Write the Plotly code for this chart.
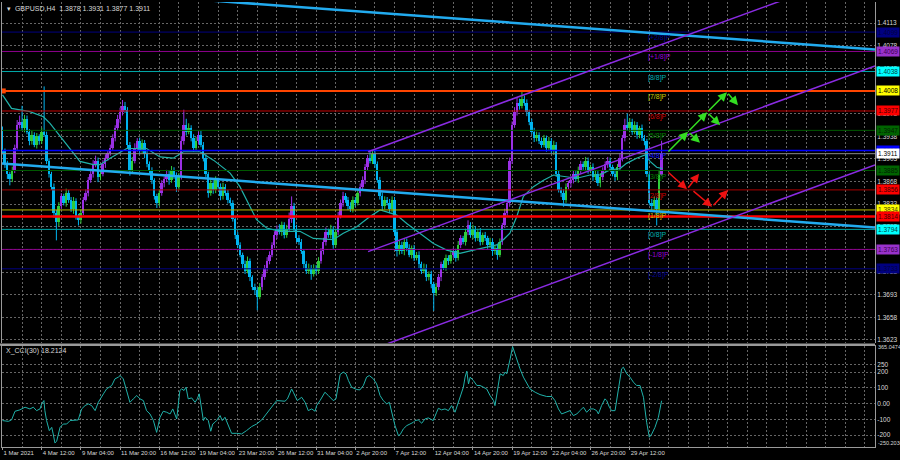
import plotly.graph_objects as go

# ---------------- DATA ----------------
first_open = 1.3945
closes = [
    1.3915, 1.3895, 1.3880, 1.3872, 1.3885, 1.3920, 1.3955, 1.3960, 1.3950, 1.3965,
    1.3945, 1.3930, 1.3940, 1.3925, 1.3938, 1.3930, 1.3945, 1.3940, 1.3900, 1.3880,
    1.3860, 1.3820, 1.3805, 1.3830, 1.3845, 1.3835, 1.3850, 1.3840, 1.3825, 1.3838,
    1.3815, 1.3808, 1.3820, 1.3840, 1.3850, 1.3870, 1.3880, 1.3895, 1.3900, 1.3875,
    1.3880, 1.3895, 1.3905, 1.3912, 1.3920, 1.3935, 1.3950, 1.3965, 1.3975, 1.3985,
    1.3978, 1.3925, 1.3885, 1.3900, 1.3920, 1.3930, 1.3915, 1.3928, 1.3910, 1.3895,
    1.3885, 1.3870, 1.3845, 1.3835, 1.3850, 1.3865, 1.3872, 1.3880, 1.3870, 1.3885,
    1.3878, 1.3860, 1.3875, 1.3930, 1.3955, 1.3945, 1.3950, 1.3935, 1.3920, 1.3930,
    1.3940, 1.3925, 1.3905, 1.3880, 1.3850, 1.3865, 1.3855, 1.3870, 1.3860, 1.3845,
    1.3860, 1.3850, 1.3840, 1.3835, 1.3810, 1.3785, 1.3770, 1.3755, 1.3740, 1.3730,
    1.3745, 1.3720, 1.3705, 1.3700, 1.3690, 1.3705, 1.3720, 1.3735, 1.3745, 1.3755,
    1.3770, 1.3785, 1.3795, 1.3790, 1.3800, 1.3785, 1.3795, 1.3810, 1.3830, 1.3795,
    1.3780, 1.3775, 1.3760, 1.3740, 1.3730, 1.3735, 1.3725, 1.3735, 1.3730, 1.3745,
    1.3760, 1.3775, 1.3790, 1.3785, 1.3795, 1.3770, 1.3790, 1.3815, 1.3835, 1.3845,
    1.3840, 1.3830, 1.3825, 1.3840, 1.3835, 1.3850, 1.3860, 1.3870, 1.3890, 1.3905,
    1.3900, 1.3910, 1.3895, 1.3870, 1.3845, 1.3830, 1.3840, 1.3835, 1.3825, 1.3840,
    1.3790, 1.3760, 1.3770, 1.3760, 1.3775, 1.3765, 1.3755, 1.3765, 1.3750, 1.3755,
    1.3740, 1.3730, 1.3735, 1.3720, 1.3725, 1.3710, 1.3695, 1.3705, 1.3720, 1.3740,
    1.3735, 1.3750, 1.3745, 1.3755, 1.3760, 1.3750, 1.3770, 1.3780, 1.3775, 1.3790,
    1.3800, 1.3785, 1.3795, 1.3780, 1.3790, 1.3775, 1.3785, 1.3780, 1.3770, 1.3775,
    1.3760, 1.3765, 1.3755, 1.3775, 1.3800, 1.3820, 1.3835, 1.3900, 1.3955, 1.3975,
    1.3990, 1.3985, 1.3995, 1.3990, 1.3975, 1.3960, 1.3945, 1.3935, 1.3940, 1.3930,
    1.3925, 1.3935, 1.3920, 1.3930, 1.3915, 1.3925, 1.3880, 1.3855, 1.3850, 1.3840,
    1.3860, 1.3865, 1.3870, 1.3880, 1.3872, 1.3885, 1.3895, 1.3890, 1.3900, 1.3885,
    1.3890, 1.3875, 1.3880, 1.3865, 1.3875, 1.3885, 1.3895, 1.3900, 1.3890, 1.3880,
    1.3875, 1.3890, 1.3905, 1.3935, 1.3955, 1.3950, 1.3960, 1.3945, 1.3955, 1.3940,
    1.3950, 1.3935, 1.3930, 1.3880, 1.3835, 1.3830, 1.3840, 1.3825, 1.3878, 1.3911,
]
upper_wick_pips = [
    8, 4, 5, 3, 6, 5, 8, 10, 25, 6,   5, 4, 6, 4, 5, 3, 6, 70, 5, 4,
    3, 5, 4, 6, 5, 4, 7, 5, 4, 6,     4, 3, 5, 4, 6, 5, 4, 6, 8, 5,
    4, 6, 5, 4, 5, 6, 5, 6, 7, 9,     6, 5, 4, 6, 7, 5, 6, 5, 4, 5,
    4, 5, 3, 4, 6, 5, 4, 6, 5, 7,     5, 4, 6, 8, 24, 10, 8, 5, 6, 7,
    5, 6, 4, 5, 3, 8, 5, 6, 4, 5,     6, 4, 5, 3, 4, 3, 5, 4, 3, 6,
    7, 4, 3, 5, 4, 6, 5, 4, 6, 5,     4, 6, 5, 7, 6, 5, 6, 10, 15, 5,
    6, 5, 4, 3, 5, 6, 4, 5, 4, 6,     5, 6, 7, 5, 6, 4, 5, 6, 5, 7,
    5, 4, 6, 5, 4, 6, 5, 6, 5, 4,     9, 6, 5, 4, 5, 6, 5, 4, 6, 5,
    4, 3, 6, 5, 4, 5, 6, 4, 5, 4,     5, 4, 6, 5, 4, 5, 3, 6, 5, 4,
    6, 5, 4, 6, 5, 4, 6, 5, 4, 5,     8, 5, 6, 4, 5, 6, 4, 5, 4, 6,
    5, 4, 6, 5, 4, 6, 5, 5, 6, 8,     7, 6, 13, 6, 5, 4, 5, 6, 5, 4,
    6, 5, 4, 7, 5, 6, 4, 5, 4, 6,     5, 4, 6, 5, 4, 6, 5, 4, 6, 5,
    4, 6, 5, 4, 6, 5, 4, 6, 5, 4,     6, 5, 7, 5, 10, 18, 6, 5, 6, 5,
    4, 6, 5, 4, 3, 6, 5, 4, 8, 20,
]
lower_wick_pips = [
    5, 6, 8, 10, 5, 4, 3, 5, 4, 6,    4, 6, 5, 4, 6, 5, 4, 3, 5, 6,
    5, 8, 28, 6, 5, 4, 6, 5, 4, 7,    6, 8, 5, 4, 3, 5, 4, 6, 5, 8,
    5, 4, 6, 5, 4, 3, 5, 4, 6, 5,     4, 6, 8, 5, 4, 6, 5, 4, 6, 5,
    4, 6, 5, 8, 5, 4, 6, 5, 7, 4,     6, 8, 5, 4, 5, 6, 4, 5, 6, 4,
    5, 4, 6, 5, 7, 4, 6, 5, 4, 6,     5, 4, 6, 5, 4, 6, 5, 4, 6, 5,
    4, 6, 5, 7, 21, 4, 5, 4, 6, 5,    4, 5, 6, 4, 6, 5, 4, 5, 6, 5,
    6, 5, 4, 6, 5, 5, 9, 4, 6, 5,     4, 5, 6, 4, 5, 6, 4, 5, 4, 6,
    5, 6, 4, 5, 6, 4, 5, 4, 6, 5,     4, 5, 6, 4, 5, 6, 5, 4, 6, 5,
    6, 8, 5, 4, 6, 5, 4, 6, 5, 4,     6, 5, 4, 6, 5, 7, 27, 4, 5, 6,
    4, 5, 6, 4, 5, 6, 4, 5, 4, 6,     5, 4, 6, 5, 4, 6, 5, 4, 6, 5,
    7, 5, 8, 4, 5, 4, 5, 6, 5, 4,     5, 6, 4, 5, 6, 5, 4, 6, 5, 4,
    5, 4, 6, 5, 4, 6, 5, 4, 6, 11,    5, 4, 6, 5, 4, 6, 5, 4, 6, 5,
    4, 6, 5, 4, 6, 5, 4, 6, 5, 4,     6, 5, 4, 6, 5, 4, 6, 5, 4, 6,
    5, 4, 6, 5, 4, 6, 5, 25, 4, 1,
]

# moving average (bar index, price)
ma_bars = [0, 3.7, 11.2, 16.7, 19.4, 24.8, 31.6, 37.1, 39.8, 43.9, 50.7, 58.8, 64.3, 69.7,
           73.8, 80.6, 86.1, 92.9, 96.9, 103.7, 107.8, 113.3, 121.4, 126.9, 135.0, 139.1,
           144.6, 150.0, 154.1, 156.8, 160.9, 165.0, 170.4, 175.9, 181.3, 186.7, 192.2,
           197.6, 201.7, 204.4, 207.1, 209.9, 212.6, 216.7, 220.8, 224.9, 229.0, 234.4,
           239.8, 243.9, 247.9, 252.0, 254.7, 258.8, 262.2, 264.3, 267.0, 269.3]
ma_values = [1.4002, 1.3981, 1.3976, 1.3968, 1.3958, 1.3932, 1.3899, 1.3894, 1.3894, 1.3904,
             1.3919, 1.3919, 1.3906, 1.3904, 1.3914, 1.3914, 1.3901, 1.3881, 1.3860, 1.3809,
             1.3796, 1.3791, 1.3791, 1.3780, 1.3778, 1.3788, 1.3798, 1.3814, 1.3824, 1.3821,
             1.3816, 1.3803, 1.3788, 1.3772, 1.3762, 1.3757, 1.3762, 1.3767, 1.3770, 1.3778,
             1.3788, 1.3814, 1.3845, 1.3860, 1.3870, 1.3878, 1.3876, 1.3873, 1.3878, 1.3878,
             1.3886, 1.3888, 1.3896, 1.3904, 1.3909, 1.3899, 1.3890, 1.3888]

# CCI(30) (bar index, value)
cci_bars = [0, 2.4, 3.7, 5.1, 7.1, 9.2, 11.2, 12.6, 13.9, 15.3, 16.0, 16.9, 17.3, 18.0, 19.1,
            20.1, 20.7, 21.4, 22.1, 22.8, 23.5, 24.8, 26.2, 27.6, 28.9, 30.9, 32.3, 33.7,
            35.0, 36.4, 37.8, 39.1, 41.2, 42.5, 44.6, 45.9, 47.3, 48.0, 49.3, 50.7, 52.0,
            53.4, 54.8, 56.1, 57.5, 58.8, 60.2, 61.6, 62.9, 64.3, 65.6, 67.0, 68.4, 69.5,
            70.4, 71.1, 72.4, 73.1, 74.1, 74.9, 75.8, 77.2, 78.6, 79.5, 80.3, 81.0, 82.0,
            82.7, 84.0, 85.0, 85.8, 86.7, 87.4, 88.8, 89.7, 90.8, 92.2, 93.5, 95.6, 97.6,
            99.6, 101.7, 103.7, 105.8, 111.9, 113.3, 115.3, 116.3, 118.0, 118.7, 120.3,
            122.1, 123.5, 124.8, 126.2, 127.6, 128.2, 129.6, 130.9, 131.6, 133.0, 135.0,
            136.1, 137.1, 137.8, 139.1, 140.2, 141.2, 142.5, 144.6, 145.9, 147.3, 148.6,
            149.7, 151.4, 152.7, 154.1, 155.4, 156.8, 157.9, 158.8, 160.2, 161.6, 162.3,
            163.6, 165.0, 166.3, 167.7, 168.4, 169.7, 171.1, 172.4, 173.8, 175.8, 177.2,
            177.9, 179.2, 180.6, 182.0, 183.3, 184.7, 185.4, 186.8, 188.1, 188.8, 189.5,
            190.2, 190.9, 192.2, 193.6, 194.9, 196.3, 197.6, 199.0, 200.4, 201.0, 202.4,
            203.1, 204.4, 205.1, 205.8, 206.5, 207.2, 208.2, 209.2, 209.9, 211.2, 212.6,
            214.0, 215.3, 217.4, 219.4, 222.1, 224.2, 225.5, 226.9, 228.2, 230.3, 231.6,
            233.0, 234.4, 235.7, 237.1, 238.4, 239.8, 241.2, 242.5, 243.2, 244.5, 245.9,
            246.6, 247.7, 248.6, 250.0, 251.4, 252.7, 253.4, 254.8, 256.1, 257.5, 258.8,
            260.2, 261.6, 262.9, 264.0, 265.0, 266.3, 267.7, 269.0]
cci_values = [-108, -113, -104, -49, -40, -23, -34, -23, -45, -34, -2, 19, -45, -108, -172,
              -151, -193, -250, -240, -193, -151, -130, -130, -108, -108, -104, -34, -13,
              -2, -13, -45, 8, 62, 93, 115, 157, 168, 178, 157, 83, 8,
              30, 51, 30, 19, -45, -66, -108, -183, -87, -49, -55, -66, -34,
              -76, -98, 83, 93, 83, 104, 30, 36, 8, 30, 62, -2, -108,
              -87, -108, -176, -130, -119, -108, -76, -108, -87, -140, -189, -189, -193,
              -172, -146, -130, -104, 19, 19, 15, 30, 93, 72, 19,
              40, 8, -45, -34, -49, -13, 19, 51, 72, 51, 19,
              30, 115, 185, 200, 189, 146, 104, 89, 87, 115, 168,
              178, 157, 125, 51, 19, -2, 8, -55, -140, -204, -197,
              -161, -140, -130, -119, -108, -104, -125, -98, -91, -108, -55,
              -30, -40, -34, -45, -13, -55, -23, 30, 104, 168, 206,
              125, 168, 146, 115, 115, 104, 93, 51, 19, -13, 125,
              189, 178, 200, 189, 231, 284, 362, 316, 274, 221, 168,
              125, 93, 72, 57, 45, 45, 19, -34, -66, -55, -45,
              -76, -66, -45, -23, -55, -34, -34, -45, -66, -13, 30,
              19, -23, -45, -45, 83, 221, 231, 189, 168, 136, 115,
              115, 40, -119, -214, -193, -151, -87, 18]

# tick labels
price_ticks = [1.3623, 1.3658, 1.3693, 1.3728, 1.3763, 1.3798, 1.3833, 1.3868, 1.3903,
               1.3938, 1.3973, 1.4008, 1.4043, 1.4078, 1.4113]
date_label_bars = [0, 16, 32, 48, 64, 80, 96, 112, 128, 144, 160, 176, 192, 208, 224, 240, 256]
date_labels = ["1 Mar 2021", "4 Mar 12:00", "9 Mar 04:00", "11 Mar 20:00", "16 Mar 12:00",
               "19 Mar 04:00", "23 Mar 20:00", "26 Mar 12:00", "31 Mar 04:00", "2 Apr 20:00",
               "7 Apr 12:00", "12 Apr 04:00", "14 Apr 20:00", "19 Apr 12:00", "22 Apr 04:00",
               "26 Apr 20:00", "29 Apr 12:00"]
cci_ticks = [-200, -100, 0, 100, 200, 250]
cci_tick_text = ["-200", "-100", "0.00", "100", "200", "250"]

# Murrey math levels
mm_names = ["[+2/8]P", "[+1/8]P", "[8/8]P", "[7/8]P", "[6/8]P", "[5/8]P", "[4/8]P",
            "[3/8]P", "[2/8]P", "[1/8]P", "[0/8]P", "[-1/8]P", "[-2/8]P"]
mm_levels = [1.4099, 1.4069, 1.4038, 1.4008, 1.3977, 1.3947, 1.3916, 1.3885, 1.3855,
             1.3824, 1.3794, 1.3763, 1.3733]
mm_label_text = ["1.4099", "1.4069", "1.4038", "1.4008", "1.3977", "1.3947", "1.3916",
                 "1.3885", "1.3856", "1.3834", "1.3794", "1.3763", "1.3733"]
support_level = 1.3814
bid_level = 1.3911

# trend lines (bar index, price)
long_trend_bars, long_trend_prices = [-1.0, 356.1], [1.3896, 1.3797]
upper_trend_bars, upper_trend_prices = [80.6, 356.1], [1.4149, 1.4072]
chan_up_bars, chan_up_prices = [149.2, 325.5], [1.3914, 1.4158]
chan_mid_bars, chan_mid_prices = [149.2, 356.1], [1.37595, 1.40465]
chan_low_bars, chan_low_prices = [154.1, 356.1], [1.3613, 1.38935]

# forecast arrows (tail -> head)
green_tail_bars = [271.2, 279.8, 279.8, 287.6, 287.6, 295.7]
green_tail_prices = [1.3912, 1.3945, 1.3945, 1.3975, 1.3975, 1.4006]
green_head_bars = [279.8, 284.7, 287.6, 292.9, 295.7, 300.2]
green_head_prices = [1.3945, 1.3928, 1.3975, 1.3955, 1.4006, 1.3986]
red_tail_bars = [271.2, 279.4, 281.4, 289.6]
red_tail_prices = [1.3884, 1.3856, 1.3855, 1.3829]
red_head_bars = [279.4, 284.3, 289.6, 296.1]
red_head_prices = [1.3856, 1.3880, 1.3829, 1.3855]

# ---------------- STYLE ----------------
PURPLE = "#9B30E6"
CYAN = "#00B4F0"
GREEN = "#30CC3A"
GRID = "#666666"
AXC = "#9a9a9a"
TXT = "#d8d8d8"
FONT = "Liberation Sans"
NARROW = "Liberation Sans Narrow, Liberation Sans"

mm_line_colors = ["#000080", "#8B008B", "#00A8A8", "#FF4500", "#C80000", "#005800", "#0000FF",
                  "#005800", "#A80000", "#B4B400", "#00A8A8", "#8B008B", "#000080"]
mm_line_widths = [1, 1, 1, 2, 1, 1, 1.5, 1, 1, 1, 1, 1, 1]
mm_text_colors = ["#000090", "#9400D3", "#00B0B0", "#C8C800", "#D00000", "#008000", "#1010FF",
                  "#008000", "#D00000", "#C8C800", "#00B0B0", "#9400D3", "#000090"]
box_bg = ["#000080", "#9932CC", "#00FFFF", "#FFFF00", "#FF0000", "#006400", "#0000FF",
          "#006400", "#FF0000", "#FFFF00", "#00FFFF", "#9932CC", "#000080"]
box_fg = ["#000040", "#3a0050", "#004040", "#000000", "#400000", "#002000", "#000060",
          "#002000", "#400000", "#404000", "#004040", "#3a0050", "#000040"]

# ---------------- BUILD ----------------
n = len(closes)
bars = list(range(n))
opens = [first_open] + closes[:-1]
highs = [max(o, c) + u / 10000 for o, c, u in zip(opens, closes, upper_wick_pips)]
lows = [min(o, c) - l / 10000 for o, c, l in zip(opens, closes, lower_wick_pips)]

colors = []
for i in range(n):
    if closes[i] >= opens[i]:
        prev_bear = i > 0 and closes[i - 1] < opens[i - 1]
        colors.append(GREEN if prev_bear else PURPLE)
    else:
        colors.append(CYAN)

fig = go.Figure()

# wicks per colour
for col in (CYAN, GREEN, PURPLE):
    xs, ys = [], []
    for i in range(n):
        if colors[i] == col:
            xs += [i, i, None]
            ys += [lows[i], highs[i], None]
    fig.add_trace(go.Scatter(x=xs, y=ys, mode="lines", line=dict(color=col, width=1),
                             hoverinfo="skip", showlegend=False, xaxis="x", yaxis="y"))

fig.add_trace(go.Bar(x=bars, y=[max(abs(c - o), 0.00008) for o, c in zip(opens, closes)],
                     base=[min(o, c) for o, c in zip(opens, closes)], width=0.8,
                     marker=dict(color=colors, line=dict(width=0)),
                     showlegend=False, xaxis="x", yaxis="y"))

# MA
fig.add_trace(go.Scatter(x=ma_bars, y=ma_values, mode="lines",
                         line=dict(color="#20B2AA", width=1.2), showlegend=False,
                         xaxis="x", yaxis="y"))

# horizontal levels
XL = [-1, 357]
for lvl, col, w in zip(mm_levels, mm_line_colors, mm_line_widths):
    fig.add_trace(go.Scatter(x=XL, y=[lvl, lvl], mode="lines", line=dict(color=col, width=w),
                             showlegend=False, hoverinfo="skip", xaxis="x", yaxis="y"))
fig.add_trace(go.Scatter(x=XL, y=[bid_level, bid_level], mode="lines",
                         line=dict(color="#8a8a8a", width=1), showlegend=False,
                         hoverinfo="skip", xaxis="x", yaxis="y"))
fig.add_trace(go.Scatter(x=XL, y=[support_level, support_level], mode="lines",
                         line=dict(color="#FF0000", width=2.5), showlegend=False,
                         hoverinfo="skip", xaxis="x", yaxis="y"))
fig.add_trace(go.Scatter(x=[0.3], y=[mm_levels[3]], mode="markers",
                         marker=dict(color="#FF4500", size=5, symbol="square"),
                         showlegend=False, hoverinfo="skip", xaxis="x", yaxis="y"))

# trend lines
for bx, py, col, w in [
    (long_trend_bars, long_trend_prices, "#22ABEF", 2.5),
    (upper_trend_bars, upper_trend_prices, "#22ABEF", 2.5),
    (chan_up_bars, chan_up_prices, "#8A2BE2", 1.5),
    (chan_mid_bars, chan_mid_prices, "#8A2BE2", 1.5),
    (chan_low_bars, chan_low_prices, "#8A2BE2", 1.5),
]:
    fig.add_trace(go.Scatter(x=bx, y=py, mode="lines", line=dict(color=col, width=w),
                             showlegend=False, hoverinfo="skip", xaxis="x", yaxis="y"))

# CCI
fig.add_trace(go.Scatter(x=cci_bars, y=cci_values, mode="lines",
                         line=dict(color="#20B2AA", width=1), showlegend=False,
                         xaxis="x2", yaxis="y2"))

annotations = []
# forecast arrows
for tb, tp, hb, hp in zip(green_tail_bars, green_tail_prices, green_head_bars, green_head_prices):
    annotations.append(dict(x=hb, y=hp, ax=tb, ay=tp, xref="x", yref="y", axref="x", ayref="y",
                            text="", showarrow=True, arrowhead=2, arrowsize=1.2, arrowwidth=1.5,
                            arrowcolor="#33DD22", standoff=0))
for tb, tp, hb, hp in zip(red_tail_bars, red_tail_prices, red_head_bars, red_head_prices):
    annotations.append(dict(x=hb, y=hp, ax=tb, ay=tp, xref="x", yref="y", axref="x", ayref="y",
                            text="", showarrow=True, arrowhead=2, arrowsize=1.2, arrowwidth=1.5,
                            arrowcolor="#EE1111", standoff=0))
# MM level names
for name, lvl, col in zip(mm_names, mm_levels, mm_text_colors):
    annotations.append(dict(x=262.5, y=lvl, xref="x", yref="y", text=name, showarrow=False,
                            xanchor="left", yanchor="top", font=dict(family=FONT, size=7, color=col)))
# price boxes on right axis
box_list = list(zip(mm_levels, mm_label_text, box_bg, box_fg))
box_list.append((support_level, "1.3814", "#FF0000", "#400000"))
box_list.append((bid_level, "1.3911", "#FFFFFF", "#000000"))
for lvl, txt, bg, fg in box_list:
    annotations.append(dict(x=1, y=lvl, xref="paper", yref="y", text=txt, showarrow=False,
                            xanchor="left", yanchor="middle", xshift=1, bgcolor=bg,
                            borderpad=1, font=dict(family=FONT, size=6.5, color=fg)))
# titles
annotations.append(dict(x=0.003, y=1, xref="paper", yref="paper", yshift=-1,
                        text="▾  GBPUSD,H4  1.3878 1.3931 1.3877 1.3911", showarrow=False,
                        xanchor="left", yanchor="top", font=dict(family=FONT, size=7, color=TXT)))
annotations.append(dict(x=0.002, y=0.2164, xref="paper", yref="paper",
                        text="X_CCI(30) 18.2124", showarrow=False,
                        xanchor="left", yanchor="middle", font=dict(family=FONT, size=7, color=TXT)))
annotations.append(dict(x=1, y=358, xref="paper", yref="y2", text="365.0474", showarrow=False,
                        xanchor="left", xshift=1, yanchor="middle",
                        font=dict(family=NARROW, size=5.5, color=TXT)))
annotations.append(dict(x=1, y=-252, xref="paper", yref="y2", text="-250.2034", showarrow=False,
                        xanchor="left", xshift=1, yanchor="middle",
                        font=dict(family=NARROW, size=5.5, color=TXT)))

shapes = [
    dict(type="rect", xref="paper", yref="paper", x0=-0.01, x1=1.0, y0=0.2275, y1=0.2325,
         fillcolor="#9a9a9a", line=dict(width=0)),
]

grid = dict(showgrid=True, gridcolor=GRID, griddash="2px,2px", gridwidth=1)

fig.update_layout(
    width=900, height=460, template="none",
    margin=dict(l=2, r=25, t=2, b=13),
    paper_bgcolor="#000000", plot_bgcolor="#000000",
    barmode="overlay", bargap=0, showlegend=False,
    annotations=annotations, shapes=shapes,
    xaxis=dict(domain=[0, 1], anchor="y", range=[-0.2, 356.1], tick0=0, dtick=8,
               showticklabels=False, ticks="", zeroline=False, showline=False, **grid),
    yaxis=dict(domain=[0.2337, 1], anchor="x", side="right", range=[1.36183, 1.41455],
               tickvals=price_ticks, ticktext=[f"{v:.4f}" for v in price_ticks],
               tickfont=dict(family=FONT, size=6.5, color=TXT), ticks="", zeroline=False,
               showline=True, linecolor=AXC, linewidth=1, mirror=True, automargin=False,
               **grid),
    xaxis2=dict(domain=[0, 1], anchor="y2", matches="x", range=[-0.2, 356.1],
                tickvals=date_label_bars, ticktext=date_labels, tickangle=0,
                ticklabelposition="outside right", ticks="outside", ticklen=2, tickcolor=AXC,
                tickfont=dict(family=NARROW, size=6, color=TXT), zeroline=False,
                showline=True, linecolor=AXC, linewidth=1, mirror=True, automargin=False,
                minor=dict(tick0=0, dtick=8, showgrid=True, gridcolor=GRID,
                           griddash="2px,2px", ticks=""),
                **grid),
    yaxis2=dict(domain=[0, 0.227], anchor="x2", side="right", range=[-276, 366],
                tickvals=cci_ticks, ticktext=cci_tick_text,
                tickfont=dict(family=FONT, size=6.5, color=TXT), ticks="", zeroline=False,
                showline=True, linecolor=AXC, linewidth=1, mirror=True, automargin=False,
                **grid),
)

fig.write_html("out.html", config={"displayModeBar": False},
               post_script="document.body.style.margin='0px';document.body.style.overflow='hidden';")
